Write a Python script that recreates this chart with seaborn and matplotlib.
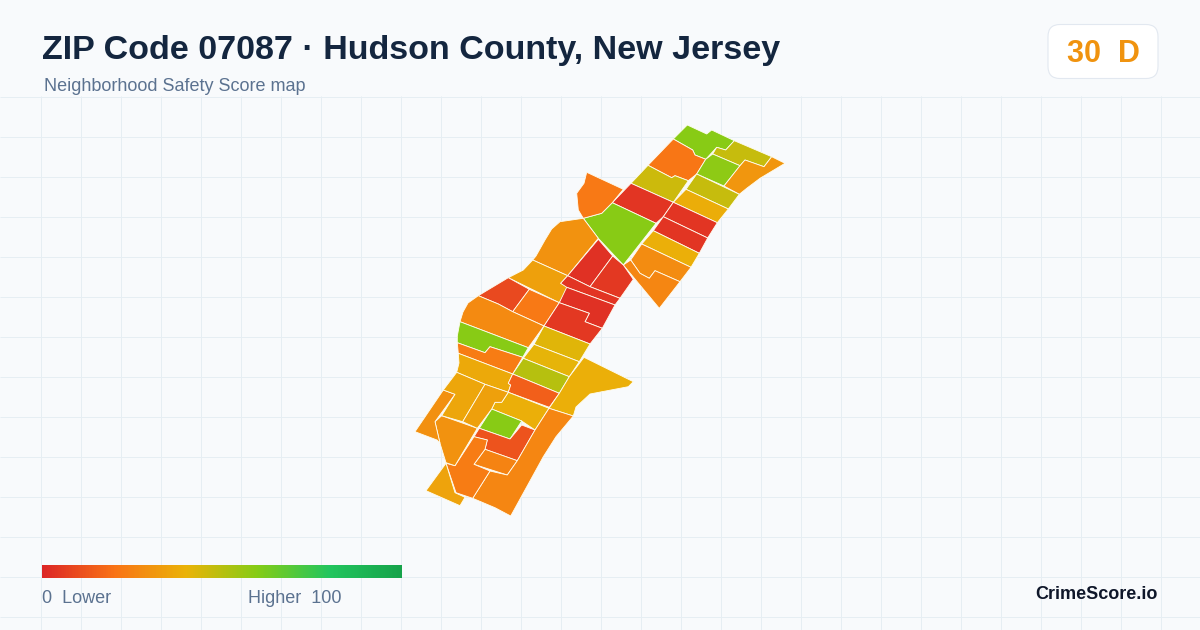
#!/usr/bin/env python3

import matplotlib.pyplot as plt
import numpy as np
import seaborn as sns
from matplotlib.collections import PolyCollection
from matplotlib.colors import Normalize
from matplotlib.patches import FancyBboxPatch

# Score scale of the map
score_colors = ["#dc2626", "#f97316", "#eab308", "#84cc16", "#22c55e", "#16a34a"]

title = "ZIP Code 07087 · Hudson County, New Jersey"
subtitle = "Neighborhood Safety Score map"
badge_text = "30  D"
brand = "CrimeScore.io"

# Tract scores
scores_north = [59, 21, 47, 58, 31, 46, 47, 38, 4, 59, 22, 4, 4, 39, 28, 26]
scores_middle = [30, 34, 9, 22, 27, 59, 23, 37, 3, 5, 4, 3, 5, 42, 41, 50, 15, 39]
scores_south = [39, 59, 12, 25, 26, 23, 30, 35, 29, 36, 34]

# Tract outlines in picture pixels
tracts_north = [
    [(687.3, 125), (706.7, 134), (711.7, 130), (734.3, 140.7), (725.7, 150), (716.7, 147.3),
     (705.7, 159.3), (695, 155), (692.7, 150), (673.3, 139)],
    [(673.3, 139), (692.7, 150), (695, 155), (705.7, 159.3), (696.7, 174), (688.3, 180.7),
     (675, 175.7), (671.7, 177.7), (648, 165.3)],
    [(734.3, 140.7), (771.7, 156.7), (764, 166.7), (745, 160), (740, 165.7), (712.7, 154),
     (716.7, 147.3), (725.7, 150)],
    [(712.7, 154), (740, 165.7), (724, 186), (696.7, 174), (705.7, 159.3)],
    [(771.7, 156.7), (785, 163.3), (760, 178.3), (746.7, 188.3), (739.3, 194.3), (724, 186),
     (740, 165.7), (745, 160), (764, 166.7)],
    [(648, 165.3), (671.7, 177.7), (675, 175.7), (688.3, 180.7), (673.3, 202.3), (631, 183.3)],
    [(696.7, 174), (739.3, 194.3), (728.3, 209), (686, 189.3)],
    [(686, 189.3), (728.3, 209), (717.3, 222.7), (673.3, 202.3)],
    [(631, 183.3), (673.3, 202.3), (663.3, 216.7), (656, 223.3), (612.3, 202.7)],
    [(612.3, 202.7), (656, 223.3), (623.3, 265), (598.3, 238.3), (583.3, 218.3), (601.7, 213.3)],
    [(586.7, 172.3), (623.3, 189.3), (612.3, 202.7), (601.7, 213.3), (583.3, 218.3),
     (578.3, 210), (576.7, 193.3), (584, 183.3)],
    [(673.3, 202.3), (717.3, 222.7), (707.7, 238), (663.3, 216.7)],
    [(663.3, 216.7), (707.7, 238), (699.3, 253.3), (653.3, 230.7)],
    [(653.3, 230.7), (699.3, 253.3), (691, 267.3), (641.7, 244)],
    [(641.7, 244), (691, 267.3), (680, 281.7), (655, 270.7), (649.3, 278.3), (640, 273.3),
     (630.7, 260)],
    [(630.7, 260), (640, 273.3), (649.3, 278.3), (655, 270.7), (680, 281.7), (659.3, 308.3),
     (623.3, 265)],
]
tracts_middle = [
    [(560, 221.7), (583.3, 218.3), (598.3, 238.3), (567.7, 275.7), (532.7, 260), (536, 256),
     (545, 240), (551.7, 229)],
    [(532.7, 260), (567.7, 275.7), (560.7, 283.3), (569, 287.3), (559.3, 302.7), (508.3, 277.7),
     (523.3, 270)],
    [(508.3, 277.7), (529.3, 289.3), (512.7, 311.7), (498.3, 304), (478.3, 295.7)],
    [(529.3, 289.3), (559.3, 302.7), (544, 326), (512.7, 311.7)],
    [(478.3, 295.7), (498.3, 304), (512.7, 311.7), (544, 326), (528.3, 347.7), (460, 321.7),
     (463, 312), (468, 303)],
    [(460, 321.7), (528.3, 347.7), (522.7, 357.3), (490, 346.7), (485, 352.7), (457.3, 342.7),
     (457.3, 336)],
    [(457.3, 342.7), (485, 352.7), (490, 346.7), (522.7, 357.3), (512.7, 374), (458.3, 353.3)],
    [(458.3, 353.3), (512.7, 374), (508.3, 383.3), (510.7, 385), (508.3, 392.3), (485, 384.3),
     (456.7, 372.3), (459, 363)],
    [(598.3, 239.3), (612.7, 256), (590, 286.7), (567.7, 275.7)],
    [(612.7, 256), (623.3, 265), (633.3, 279.3), (620, 298.3), (590, 286.7)],
    [(567.7, 275.7), (590, 286.7), (620, 298.3), (615, 305), (566.7, 287.3), (560.7, 283.3)],
    [(566.7, 287.3), (615, 305), (602.3, 328.3), (585, 321.7), (589.3, 313.3), (559.3, 302.7)],
    [(559.3, 302.7), (589.3, 313.3), (585, 321.7), (602.3, 328.3), (590, 344), (544, 326)],
    [(544, 326), (590, 344), (579.3, 361.7), (534, 344.3)],
    [(534, 344.3), (579.3, 361.7), (569.3, 376.7), (523.3, 358.3)],
    [(523.3, 358.3), (569.3, 376.7), (559.3, 393.3), (512.7, 374)],
    [(512.7, 374), (559.3, 393.3), (549.3, 407.3), (508.3, 392.3), (510.7, 385), (508.3, 383.3)],
    [(584, 357.3), (633.3, 381.7), (628.3, 386.7), (590, 394), (576, 407), (573.3, 416),
     (549, 408.3), (559.3, 393.3), (569.3, 376.7)],
]
tracts_south = [
    [(508.3, 392.3), (549, 408.3), (535, 430), (521.7, 421), (491.7, 409), (495, 402.3),
     (501.7, 402.3)],
    [(491.7, 409), (521.7, 421), (510, 439), (479.3, 428.3)],
    [(479.3, 428.3), (510, 439), (521.7, 425), (535, 430), (517.3, 460.7), (485, 449.3),
     (487.3, 440), (474, 436.7)],
    [(485, 449.3), (517.3, 460.7), (507.3, 475), (474, 464.3)],
    [(549, 408.3), (573.3, 416), (556, 436.7), (543.3, 456.7), (510.7, 516), (495, 507.7),
     (472.7, 498.3), (490, 471), (507.3, 475), (517.3, 460.7), (535, 430)],
    [(474, 436.7), (487.3, 440), (485, 449.3), (474, 464.3), (490, 471), (472.7, 498.3),
     (456, 492.7), (446, 463.3), (455, 465.7)],
    [(435, 421.7), (441.7, 415.7), (477.3, 428.3), (455, 465.7), (446, 462.7), (440, 443.3)],
    [(446, 463.3), (455, 492.7), (465, 497.3), (460, 505.7), (426, 490.7)],
    [(443.3, 390), (455, 394.3), (435, 421.7), (440, 443.3), (437, 440), (415, 431.7)],
    [(456.7, 372.3), (485, 384.3), (462.7, 421.7), (441.7, 415.7), (455, 394.3), (443.3, 390)],
    [(485, 384.3), (508.3, 392.3), (501.7, 402.3), (495, 402.3), (491.7, 409), (477.3, 428.3),
     (462.7, 421.7)],
]

sns.set_theme(style="white")
plt.rcParams["font.family"] = ["Liberation Sans", "DejaVu Sans"]

score_cmap = sns.blend_palette(score_colors, as_cmap=True)

fig = plt.figure(figsize=(12, 6.3), dpi=100, facecolor="#f8fafc")
ax = fig.add_axes([0, 0, 1, 1])
ax.set(xlim=(0, 1200), ylim=(630, 0), facecolor="#f8fafc", xticks=[], yticks=[])
sns.despine(ax=ax, left=True, bottom=True)

# Faint background grid, below the header only
ax.vlines(np.arange(40, 1200, 40) + 0.5, 96, 630, color="#e6eef3", lw=0.72, zorder=1)
ax.hlines(np.arange(96.5, 630, 40), 0, 1200, color="#e6eef3", lw=0.72, zorder=1)

tracts = PolyCollection(
    tracts_north + tracts_middle + tracts_south,
    array=np.array(scores_north + scores_middle + scores_south, dtype=float),
    cmap=score_cmap, norm=Normalize(0, 100),
    edgecolors="#fffdf0", linewidths=0.6, zorder=2,
)
ax.add_collection(tracts)

# Header
ax.text(42, 59, title, fontsize=24.5, fontweight="bold", color="#14263f")
ax.text(44, 91, subtitle, fontsize=12.95, color="#5b7290")

ax.add_patch(FancyBboxPatch(
    (1060, 36.5), 86, 30, boxstyle="round,pad=12,rounding_size=12",
    facecolor="white", edgecolor="#e2e8f0", lw=0.8, zorder=3,
))
ax.text(1103, 62, badge_text, fontsize=22, fontweight="bold", color="#f0930f",
        ha="center", zorder=4)

# Legend bar
bar_ax = fig.add_axes([42 / 1200, 1 - 578 / 630, 360 / 1200, 13 / 630])
sns.heatmap(
    np.linspace(0, 100, 360).reshape(1, -1), ax=bar_ax, cmap=score_cmap, vmin=0, vmax=100,
    cbar=False, xticklabels=False, yticklabels=False,
)

ax.text(42, 603, "0  Lower", fontsize=13, color="#5b7290")
ax.text(342, 603, "Higher  100", fontsize=13, color="#5b7290", ha="right")
ax.text(1158, 599, brand, fontsize=13, fontweight="bold", color="#0f172a", ha="right")

fig.savefig("out.png", dpi=100, facecolor=fig.get_facecolor())
